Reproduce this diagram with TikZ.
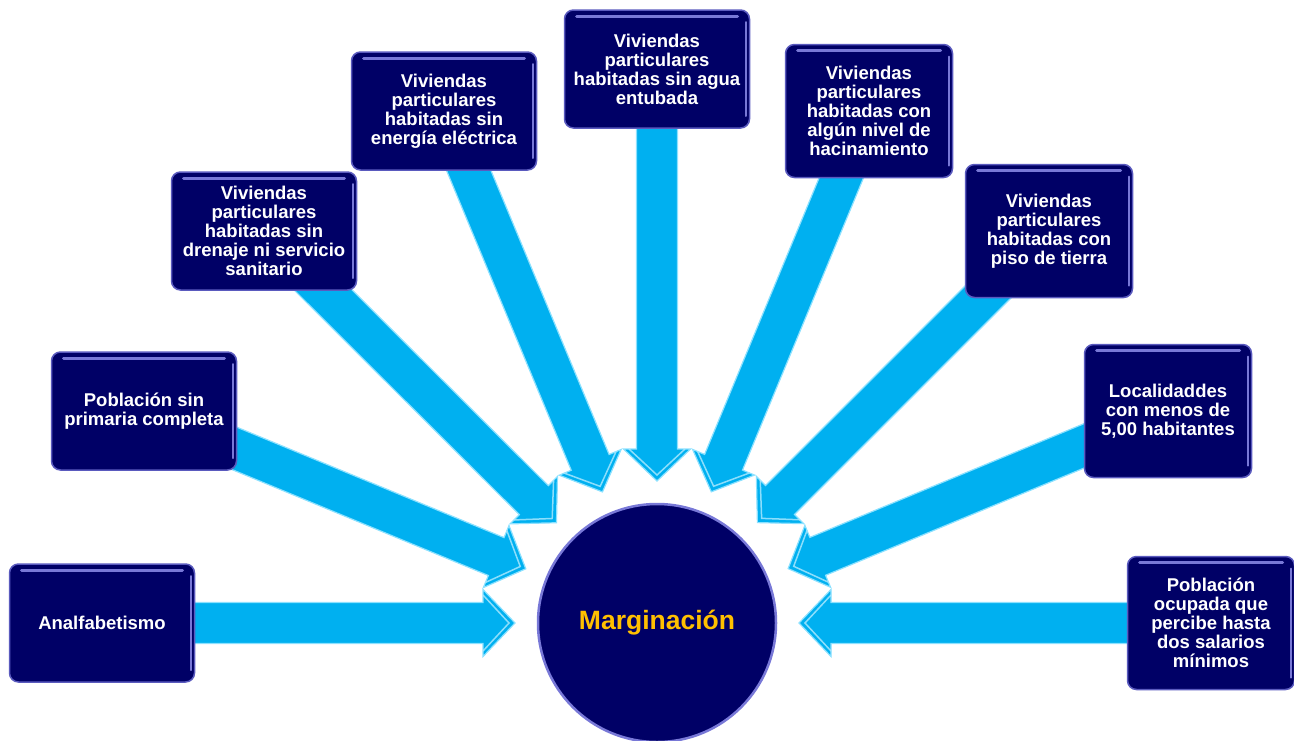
\documentclass[tikz,border=0pt]{standalone}
\usepackage{fontspec}
\setmainfont{Liberation Sans}
\usetikzlibrary{calc,backgrounds}

\definecolor{navybox}{RGB}{0,0,102}
\definecolor{navyedge}{RGB}{90,90,190}
\definecolor{navyshine}{RGB}{120,120,215}
\definecolor{arrowblue}{RGB}{0,176,240}
\definecolor{arrowedge}{RGB}{140,225,255}
\definecolor{margold}{RGB}{255,192,0}

% wide arrow from a box (#1) towards the circle (#2)
\newcommand{\fatarrow}[2]{%
  \path ($(#2.center)!142pt!(#1.center)$) coordinate (tip)
        ($(tip)!32pt!(#1.center)$) coordinate (base);
  \filldraw[fatarrow] ($(#1.center)!20.5pt!90:(tip)$) -- ($(base)!20.5pt!90:(tip)$)
     -- ($(base)!33.5pt!90:(tip)$) -- (tip) -- ($(base)!33.5pt!-90:(tip)$)
     -- ($(base)!20.5pt!-90:(tip)$) -- ($(#1.center)!20.5pt!-90:(tip)$) -- cycle;
  \draw[arrowshine] ($(base)!28pt!90:(tip)$) -- ($(tip)!6pt!(base)$) -- ($(base)!28pt!-90:(tip)$);
}

\begin{document}
\begin{tikzpicture}[
        x=1pt, y=-1pt,
        fatarrow/.style={fill=arrowblue, draw=arrowedge, line width=1.2pt, line join=miter},
        arrowshine/.style={draw=arrowedge!70!white, line width=1.5pt, opacity=0.8},
        box/.style={draw=navyedge, fill=navybox, line width=1.5pt, rounded corners=9pt,
            text=white, align=center, font=\bfseries\fontsize{18.5}{19}\selectfont,
            minimum width=185pt, minimum height=118pt, inner sep=2pt,
            path picture={
                \draw[navyshine, line width=3pt, line cap=round]
                    ([xshift=12pt,yshift=-6pt]path picture bounding box.north west)
                    -- ([xshift=-12pt,yshift=-6pt]path picture bounding box.north east);
                \draw[navyshine, line width=2pt, line cap=round]
                    ([xshift=-4pt,yshift=-12pt]path picture bounding box.north east)
                    -- ([xshift=-4pt,yshift=12pt]path picture bounding box.south east);
            }},
        rbox/.style={box, minimum width=167pt, minimum height=133pt}
    ]
        \useasboundingbox (0,0) rectangle (1294,740);

        \node[circle, draw=navyshine, fill=navybox, line width=2.5pt, minimum size=238pt,
              text=margold, font=\bfseries\fontsize{26.5}{30}\selectfont] (marg) at (657,623) {Marginación};

        \node[box] (analf) at (102,623) {Analfabetismo};
        \node[box] (prim) at (144,411) {Población sin\\primaria completa};
        \node[box] (dren) at (264,231) {Viviendas\\particulares\\habitadas sin\\drenaje ni servicio\\sanitario};
        \node[box] (elec) at (444,111) {Viviendas\\particulares\\habitadas sin\\energía eléctrica};
        \node[box] (agua) at (657,69) {Viviendas\\particulares\\habitadas sin agua\\entubada};
        \node[rbox] (hacin) at (869,111) {Viviendas\\particulares\\habitadas con\\algún nivel de\\hacinamiento};
        \node[rbox] (piso) at (1049,231) {Viviendas\\particulares\\habitadas con\\piso de tierra};
        \node[rbox] (local) at (1168,411) {Localidaddes\\con menos de\\5,00 habitantes};
        \node[rbox] (ocup) at (1211,623) {Población\\ocupada que\\percibe hasta\\dos salarios\\mínimos};

        \begin{scope}[on background layer]
            \fatarrow{analf}{marg}
            \fatarrow{prim}{marg}
            \fatarrow{dren}{marg}
            \fatarrow{elec}{marg}
            \fatarrow{agua}{marg}
            \fatarrow{hacin}{marg}
            \fatarrow{piso}{marg}
            \fatarrow{local}{marg}
            \fatarrow{ocup}{marg}
        \end{scope}
    \end{tikzpicture}
\end{document}
